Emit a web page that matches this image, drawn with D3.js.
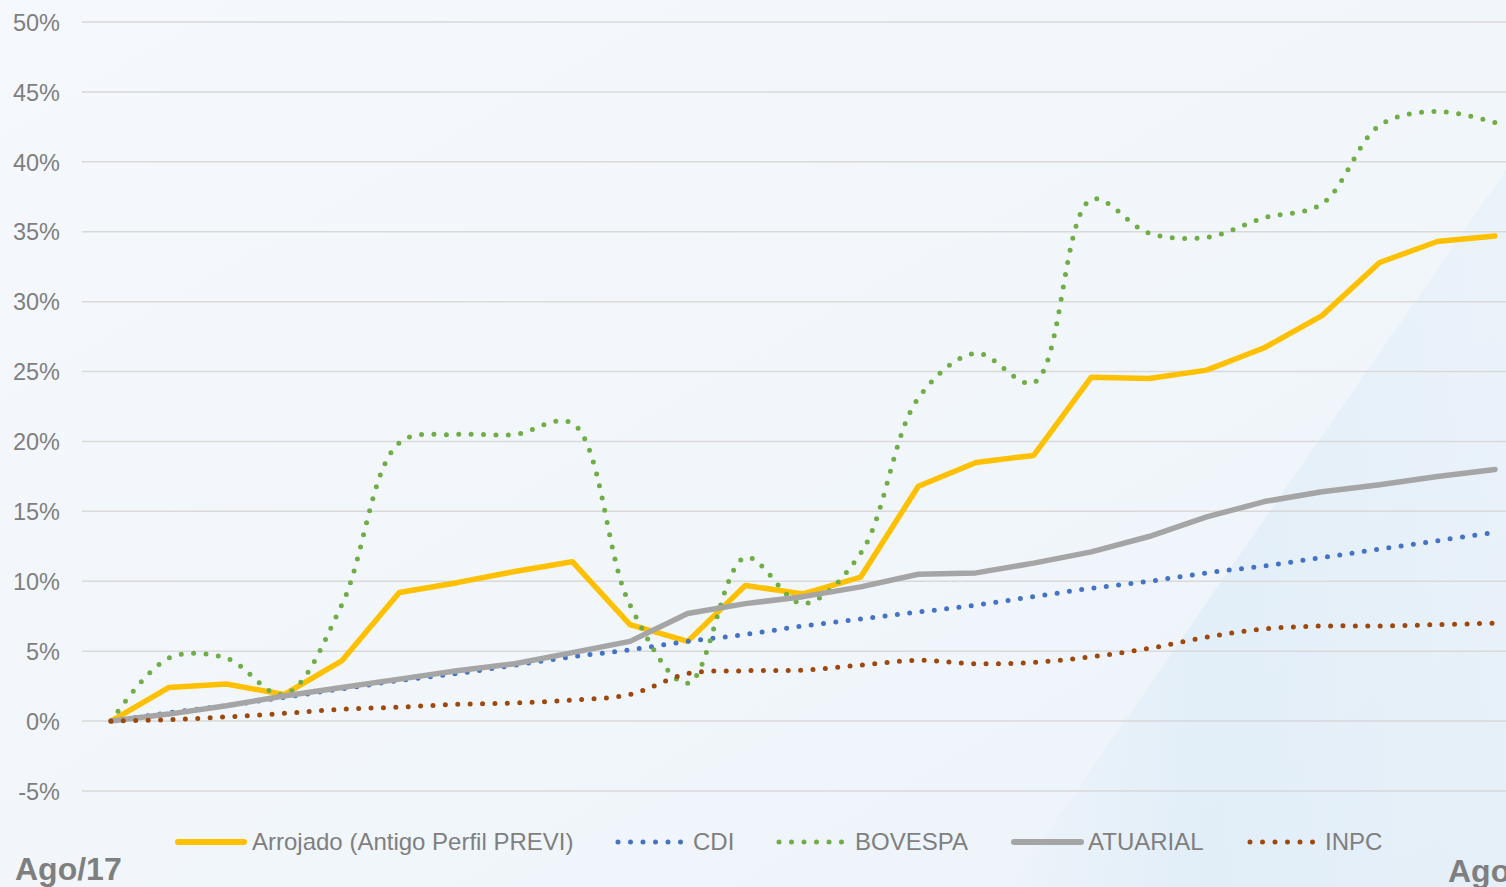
<!DOCTYPE html>
<html>
<head>
<meta charset="utf-8">
<script src="https://cdn.jsdelivr.net/npm/d3@7"></script>
<style>
  html, body { margin: 0; padding: 0; background: #F3F7FB; }
  svg { display: block; }
</style>
</head>
<body>
<svg id="chart" width="1506" height="887"></svg>
<script>
// ---- data ----
const categories = ["Ago/17","Set/17","Out/17","Nov/17","Dez/17","Jan/18","Fev/18","Mar/18","Abr/18","Mai/18","Jun/18","Jul/18","Ago/18","Set/18","Out/18","Nov/18","Dez/18","Jan/19","Fev/19","Mar/19","Abr/19","Mai/19","Jun/19","Jul/19","Ago/19"];
const arrojado = [0, 2.4, 2.65, 1.9, 4.3, 9.2, 9.9, 10.7, 11.4, 6.9, 5.7, 9.7, 9.1, 10.3, 16.8, 18.5, 19.0, 24.6, 24.5, 25.1, 26.7, 29.0, 32.8, 34.3, 34.7];
const cdi      = [0, 0.6, 1.1, 1.7, 2.3, 2.9, 3.4, 4.0, 4.6, 5.1, 5.7, 6.2, 6.8, 7.3, 7.8, 8.3, 8.9, 9.5, 10.0, 10.6, 11.1, 11.7, 12.3, 12.9, 13.5];
const bovespa  = [0, 4.5, 4.5, 1.9, 8.3, 19.9, 20.5, 20.5, 21.3, 8.3, 2.7, 11.7, 8.4, 12.0, 23.1, 26.3, 24.2, 37.3, 34.9, 34.6, 36.0, 37.0, 42.6, 43.6, 42.8];
const atuarial = [0, 0.5, 1.1, 1.8, 2.4, 3.0, 3.6, 4.1, 4.9, 5.7, 7.7, 8.4, 8.9, 9.6, 10.5, 10.6, 11.3, 12.1, 13.2, 14.6, 15.7, 16.4, 16.9, 17.5, 18.0];
const inpc     = [0, 0.1, 0.3, 0.55, 0.85, 1.0, 1.2, 1.3, 1.5, 1.9, 3.4, 3.6, 3.65, 4.0, 4.35, 4.1, 4.2, 4.6, 5.2, 6.0, 6.6, 6.8, 6.8, 6.9, 7.0];
const yTicks = [-5, 0, 5, 10, 15, 20, 25, 30, 35, 40, 45, 50];
const seriesNames = ["Arrojado (Antigo Perfil PREVI)", "CDI", "BOVESPA", "ATUARIAL", "INPC"];
const startLabel = "Ago/17";
const endLabel = "Ago/19";

// ---- setup ----
const svg = d3.select("#chart");
const W = 1506, H = 887;
const FONT = "Liberation Sans, Arial, sans-serif";

const defs = svg.append("defs");
const bg = defs.append("linearGradient").attr("id","bg").attr("x1","0").attr("y1","0").attr("x2","1").attr("y2","1");
bg.append("stop").attr("offset","0%").attr("stop-color","#F5F8FC");
bg.append("stop").attr("offset","60%").attr("stop-color","#F1F6FB");
bg.append("stop").attr("offset","100%").attr("stop-color","#EAF2F9");
svg.append("rect").attr("width",W).attr("height",H).attr("fill","url(#bg)");

const band = defs.append("linearGradient").attr("id","band").attr("x1","0").attr("y1","0").attr("x2","1").attr("y2","0");
band.append("stop").attr("offset","0%").attr("stop-color","#D6E8F6").attr("stop-opacity",0.0);
band.append("stop").attr("offset","40%").attr("stop-color","#D6E8F6").attr("stop-opacity",0.5);
band.append("stop").attr("offset","100%").attr("stop-color","#DDEBF7").attr("stop-opacity",0.3);
svg.append("path").attr("d","M1010,887 L1506,170 L1506,887 Z").attr("fill","url(#band)");

const x = d3.scalePoint().domain(categories).range([111, 1495]);
const y = d3.scaleLinear().domain([-5, 50]).range([791, 22]);

// y labels via axis
const yAxis = d3.axisLeft(y).tickValues(yTicks).tickSize(0).tickPadding(0)
  .tickFormat(d => d + "%");
const gAxis = svg.append("g").attr("transform","translate(60,0)").call(yAxis);
gAxis.select(".domain").remove();
gAxis.selectAll("text").attr("font-family",FONT)
  .attr("font-size",23.5).attr("fill","#7F7F7F").attr("dy","0.35em");

// gridlines
svg.append("g").selectAll("line").data(yTicks).join("line")
  .attr("x1",82).attr("x2",W).attr("y1",d=>y(d)).attr("y2",d=>y(d))
  .attr("stroke","#D9D9D9").attr("stroke-width",1.5);

// series
const series = [
  {name: seriesNames[0], values: arrojado, color:"#FFC000", dotted:false, width:5.5},
  {name: seriesNames[1], values: cdi,      color:"#4472C4", dotted:true,  width:5},
  {name: seriesNames[2], values: bovespa,  color:"#70AD47", dotted:true,  width:5},
  {name: seriesNames[3], values: atuarial, color:"#A5A5A5", dotted:false, width:5.5},
  {name: seriesNames[4], values: inpc,     color:"#9E480E", dotted:true,  width:5}
];

series.forEach(s => {
  const line = d3.line()
    .x((d,i) => x(categories[i]))
    .y(d => y(d))
    .curve(s.dotted ? d3.curveCatmullRom.alpha(0.5) : d3.curveLinear);
  svg.append("path").datum(s.values)
    .attr("d", line)
    .attr("fill","none")
    .attr("stroke", s.color)
    .attr("stroke-width", s.width)
    .attr("stroke-linecap","round")
    .attr("stroke-linejoin","round")
    .attr("stroke-dasharray", s.dotted ? "0 12.4" : null);
});

// legend
const legendY = 842;
const legendItems = [
  {x0:178, x1:244, tx:252},
  {x0:618, x1:683, tx:693},
  {x0:779, x1:844, tx:855},
  {x0:1014, x1:1081, tx:1088},
  {x0:1250, x1:1313, tx:1325}
];
series.forEach((s,i) => {
  const it = legendItems[i];
  svg.append("line").attr("x1",it.x0).attr("x2",it.x1).attr("y1",legendY).attr("y2",legendY)
    .attr("stroke", s.color).attr("stroke-width", s.dotted ? 5 : 6)
    .attr("stroke-linecap","round")
    .attr("stroke-dasharray", s.dotted ? "0 12.5" : null);
  svg.append("text").attr("x", it.tx).attr("y", legendY).attr("dy","0.35em")
    .attr("font-family",FONT).attr("font-size",24)
    .attr("fill","#7F7F7F").text(s.name);
});

// corner labels
svg.append("text").attr("x",15).attr("y",880)
  .attr("font-family",FONT).attr("font-weight","bold")
  .attr("font-size",32).attr("fill","#7F7F7F").text(startLabel);
svg.append("text").attr("x",1448).attr("y",882)
  .attr("font-family",FONT).attr("font-weight","bold")
  .attr("font-size",32).attr("fill","#7F7F7F").text(endLabel);
</script>
</body>
</html>
